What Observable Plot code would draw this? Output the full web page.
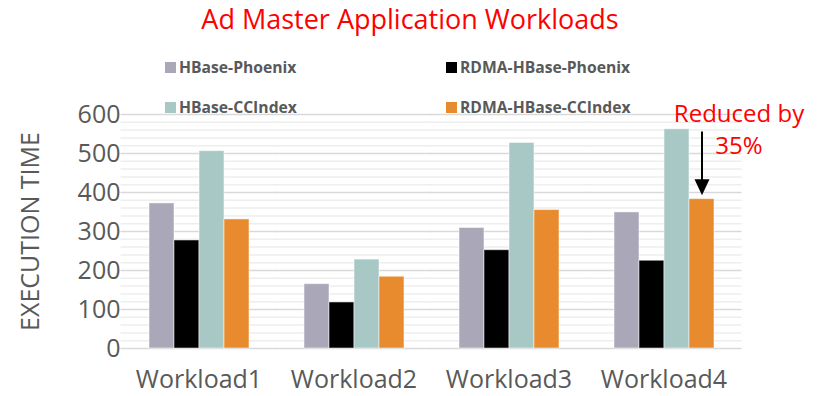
<!DOCTYPE html>
<html>
<head>
<meta charset="utf-8">
<script src="https://cdn.jsdelivr.net/npm/d3@7"></script>
<script src="https://cdn.jsdelivr.net/npm/@observablehq/plot@0.6"></script>
<style>
  html, body { margin: 0; padding: 0; background: #fff; }
  #wrap { position: relative; width: 817px; height: 396px; font-family: "Open Sans", sans-serif; }
  #title { position: absolute; left: 0; width: 820px; top: 0px; text-align: center; color: #ff0000; font-size: 27px; line-height: normal; z-index: 2; }
  .leg { position: absolute; display: flex; align-items: center; font-size: 15.7px; font-weight: bold; color: #595959; line-height: normal; z-index: 2; white-space: nowrap; }
  .leg span.sw { display: inline-block; width: 11px; height: 11px; margin-right: 3px; }
  #chart { position: absolute; left: 0; top: 0; }
</style>
</head>
<body>
<div id="wrap">
  <div id="title"></div>
  <div id="legend"></div>
  <div id="chart"></div>
</div>
<script>
// ---- data ----
const titleText = "Ad Master Application Workloads";
const workloads = ["Workload1", "Workload2", "Workload3", "Workload4"];
const series = ["HBase-Phoenix", "RDMA-HBase-Phoenix", "HBase-CCIndex", "RDMA-HBase-CCIndex"];
const hbasePhoenix = [372, 165, 309, 349];
const rdmaHbasePhoenix = [277, 118, 252, 225];
const hbaseCCIndex = [506, 228, 527, 562];
const rdmaHbaseCCIndex = [331, 184, 355, 383];
const yTicks = [0, 100, 200, 300, 400, 500, 600];
const minorTicks = [20, 40, 60, 80, 120, 140, 160, 180, 220, 240, 260, 280, 320, 340, 360, 380, 420, 440, 460, 480, 520, 540, 560, 580];
const yLabel = "EXECUTION TIME";
const colors = ["#aaa8b8", "#000000", "#a8c8c6", "#e88b2e"];
const annotation = [{workload: "Workload4", series: "RDMA-HBase-CCIndex", text: "Reduced by\n35%", textY: 565, arrowTop: 555, arrowTip: 393}];

// ---- build table ----
const seriesValues = [hbasePhoenix, rdmaHbasePhoenix, hbaseCCIndex, rdmaHbaseCCIndex];
const data = workloads.flatMap((w, i) => series.map((s, j) => ({workload: w, series: s, value: seriesValues[j][i]})));

// ---- title & legend ----
document.getElementById("title").textContent = titleText;
const legendPos = [[165, 56], [446, 56], [165, 96], [446, 96]];
const legendEl = document.getElementById("legend");
series.forEach((s, i) => {
  const d = document.createElement("div");
  d.className = "leg";
  d.style.left = legendPos[i][0] + "px";
  d.style.top = legendPos[i][1] + "px";
  const sw = document.createElement("span");
  sw.className = "sw";
  sw.style.background = colors[i];
  d.appendChild(sw);
  d.appendChild(document.createTextNode(s));
  legendEl.appendChild(d);
});

const downTriangle = {
  draw(context) {
    context.moveTo(-7.5, -16);
    context.lineTo(7.5, -16);
    context.lineTo(0, 0);
    context.closePath();
  }
};

const W = 817, mL = 120, mR = 74;
const padInner = 0.333, padOuter = 0.167;
const step = (W - mL - mR) / (workloads.length - padInner + 2 * padOuter);
const gridExt = -step * padOuter - 0.5; // extend grid lines across the gaps between facets

const chart = Plot.plot({
  width: W,
  height: 396,
  marginTop: 114,
  marginBottom: 48,
  marginLeft: mL,
  marginRight: mR,
  style: {fontFamily: "'Open Sans', sans-serif", fontSize: "25px", color: "#595959", background: "transparent", overflow: "visible"},
  fx: {domain: workloads, paddingInner: padInner, paddingOuter: padOuter, label: null, tickSize: 0, tickPadding: 22},
  x: {domain: series, padding: 0, axis: null},
  y: {domain: [0, 600], ticks: yTicks, tickSize: 0, tickPadding: 27, label: null},
  color: {domain: series, range: colors},
  marks: [
    Plot.ruleY(minorTicks, {stroke: "#eeeeee", strokeWidth: 1.5, insetLeft: gridExt, insetRight: gridExt}),
    Plot.ruleY(yTicks, {stroke: "#d9d9d9", strokeWidth: 1.5, insetLeft: gridExt, insetRight: gridExt}),
    Plot.barY(data, {fx: "workload", x: "series", y: "value", fill: "series", stroke: "#ffffff", strokeOpacity: 0.5, strokeWidth: 1}),
    Plot.axisY(yTicks, {anchor: "left", tickSize: 0, tickPadding: 27, textAnchor: "end", label: yLabel, labelAnchor: "center", labelOffset: 126, labelArrow: false}),
    Plot.ruleX(annotation, {fx: "workload", x: "series", y1: "arrowTop", y2: d => d.arrowTip + 20, stroke: "#000", strokeWidth: 2}),
    Plot.dot(annotation, {fx: "workload", x: "series", y: "arrowTip", symbol: downTriangle, fill: "#000", stroke: "none"}),
    Plot.text(annotation, {fx: "workload", x: "series", y: "textY", text: "text", dx: 37, fill: "#ff0000", fontSize: 24, lineHeight: 1.33, lineAnchor: "middle", textAnchor: "middle"})
  ]
});
document.getElementById("chart").appendChild(chart);
</script>
</body>
</html>
